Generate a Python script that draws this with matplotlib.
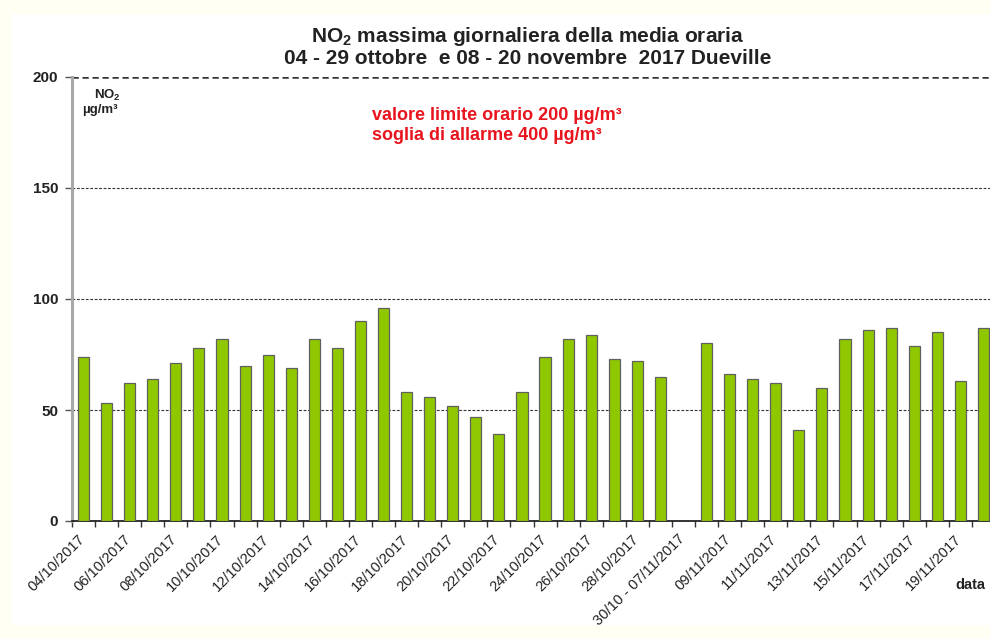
import numpy as np
import matplotlib
matplotlib.use("Agg")
import matplotlib.pyplot as plt
from matplotlib.patches import Rectangle
from matplotlib.transforms import ScaledTranslation

plt.rcParams["font.family"] = ["Liberation Sans", "DejaVu Sans"]
plt.rcParams["mathtext.default"] = "regular"

# daily maximum of hourly NO2 mean (µg/m3), Dueville
october_days = ["04/10/2017", "05/10/2017", "06/10/2017", "07/10/2017", "08/10/2017",
                "09/10/2017", "10/10/2017", "11/10/2017", "12/10/2017", "13/10/2017",
                "14/10/2017", "15/10/2017", "16/10/2017", "17/10/2017", "18/10/2017",
                "19/10/2017", "20/10/2017", "21/10/2017", "22/10/2017", "23/10/2017",
                "24/10/2017", "25/10/2017", "26/10/2017", "27/10/2017", "28/10/2017",
                "29/10/2017"]
october_values = [74, 53, 62, 64, 71, 78, 82, 70, 75, 69, 82, 78, 90, 96, 58, 56, 52,
                  47, 39, 58, 74, 82, 84, 73, 72, 65]
gap_label = "30/10 - 07/11/2017"
november_days = ["08/11/2017", "09/11/2017", "10/11/2017", "11/11/2017", "12/11/2017",
                 "13/11/2017", "14/11/2017", "15/11/2017", "16/11/2017", "17/11/2017",
                 "18/11/2017", "19/11/2017", "20/11/2017"]
november_values = [80, 66, 64, 62, 41, 60, 82, 86, 87, 79, 85, 63, 87]

categories = october_days + [gap_label] + november_days
values = october_values + [np.nan] + november_values
y_ticks = [0, 50, 100, 150, 200]

fig = plt.figure(figsize=(9.9, 6.39), dpi=100)
fig.patch.set_facecolor("#FFFFF4")
fig.add_artist(Rectangle((12 / 990, 14 / 639), 1, 611 / 639, transform=fig.transFigure,
                         facecolor="white", edgecolor="none", zorder=0))

ax = fig.add_axes([72 / 990, 118 / 639, 923 / 990, 444 / 639])
ax.set_facecolor("white")
x = np.arange(len(categories))
ax.bar(x, values, width=0.48, color="#8FC800", edgecolor="#606060", linewidth=0.9,
       zorder=3)

ax.set_xlim(-0.5, len(categories) - 0.5)
ax.set_ylim(0, 200)

# horizontal reference lines
for yv in y_ticks[1:]:
    ax.axhline(yv, color="#333333", linestyle=(0, (2.5, 1.5)),
               linewidth=1.8 if yv == 200 else 0.8, zorder=1)

ax.set_yticks(y_ticks)
ax.set_yticklabels([str(v) for v in y_ticks], fontsize=11, fontweight="bold",
                   color="#222222")
ax.tick_params(axis="y", length=5, width=1, color="#555555", pad=5)

label_pos = list(range(0, len(categories), 2))
ax.set_xticks(label_pos)
ax.set_xticklabels([categories[i] for i in label_pos], rotation=45, ha="right",
                   va="top", rotation_mode="anchor", fontsize=10.5, color="#222222")
ax.tick_params(axis="x", which="major", length=0, pad=8)
shift = ScaledTranslation(-6 / 100, 0, fig.dpi_scale_trans)
for lbl in ax.get_xticklabels():
    lbl.set_transform(lbl.get_transform() + shift)
ax.set_xticks(np.arange(-0.5, len(categories), 1), minor=True)
ax.tick_params(axis="x", which="minor", length=4, width=1, direction="out",
               color="#333333")

for side in ("top", "right"):
    ax.spines[side].set_visible(False)
ax.spines["left"].set_color("#A8A8A8")
ax.spines["left"].set_linewidth(2.2)
ax.spines["bottom"].set_color("#111111")
ax.spines["bottom"].set_linewidth(1.2)

# unit label inside the axes
ax.text(0.45, 195, r"NO$_2$", fontsize=9.5, fontweight="bold", ha="left", va="top",
        color="#222222")
ax.text(-0.05, 188, "µg/m³", fontsize=9.5, fontweight="bold", ha="left", va="top",
        color="#222222")

ax.text(12.5, 182.5, "valore limite orario 200 µg/m³", fontsize=13, fontweight="bold",
        color="#E8141E", ha="left", va="center")
ax.text(12.5, 173.5, "soglia di allarme 400 µg/m³", fontsize=13, fontweight="bold",
        color="#E8141E", ha="left", va="center")

fig.text(528 / 990, 1 - 37 / 639, r"NO$_2$ massima giornaliera della media oraria",
         fontsize=15, fontweight="bold", ha="center", va="center", color="#222222")
fig.text(528 / 990, 1 - 59 / 639, "04 - 29 ottobre  e 08 - 20 novembre  2017 Dueville",
         fontsize=15, fontweight="bold", ha="center", va="center", color="#222222")

fig.text(970 / 990, 1 - 585 / 639, "data", fontsize=10.5, fontweight="bold", ha="center",
         va="center", color="#222222")

fig.savefig("out.png", dpi=100, facecolor=fig.get_facecolor())
